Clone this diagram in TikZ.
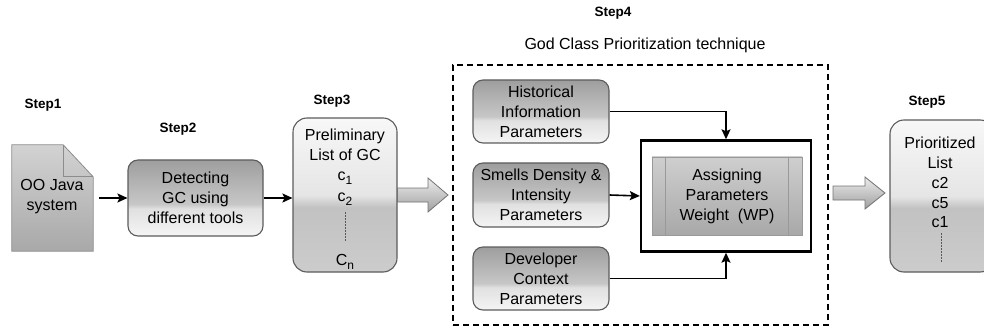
\documentclass[tikz,border=0pt]{standalone}
\usepackage{fontspec}
\setmainfont{Liberation Sans}
\usetikzlibrary{arrows.meta,calc}
\definecolor{gA}{gray}{0.96}
\definecolor{gB}{gray}{0.88}
\definecolor{gC}{gray}{0.78}
\definecolor{gD}{gray}{0.62}
\definecolor{hA}{gray}{0.97}
\definecolor{hB}{gray}{0.90}
\definecolor{hC}{gray}{0.76}
\definecolor{hD}{gray}{0.80}
\definecolor{edge}{gray}{0.36}
\pgfdeclareverticalshading{glossbox}{100bp}{color(0bp)=(gA); color(25bp)=(gA); color(43bp)=(gB); color(46bp)=(gC); color(75bp)=(gD); color(100bp)=(gD)}
\pgfdeclareverticalshading{glosslist}{100bp}{color(0bp)=(hD); color(25bp)=(hD); color(46bp)=(hC); color(50bp)=(hB); color(75bp)=(hA); color(100bp)=(hA)}
\begin{document}
\begin{tikzpicture}[x=1pt,y=-1pt,
  font=\fontsize{16}{20}\selectfont,
  steplbl/.style={font=\bfseries\fontsize{13.5}{16}\selectfont, inner sep=0pt},
  txt/.style={inner sep=0pt, align=center},
  gbox/.style={draw=edge, line width=1.1pt, rounded corners=10pt, shading=glossbox, align=center, inner sep=0pt},
  lbox/.style={draw=edge, line width=1.1pt, rounded corners=14pt, shading=glosslist, inner sep=0pt},
  conn/.style={line width=1.6pt, -{Stealth[length=10pt,width=9pt,inset=2pt]}},
  hollow/.style={draw=gray!110, line width=0.8pt, top color=gray!15, bottom color=gray!75},
  dots/.style={gray!70!black, line width=1pt, dash pattern=on 1.5pt off 1.5pt}
]
\useasboundingbox (0,0) rectangle (984,331);
\clip (0,0) rectangle (984,331);

% step labels
\node[steplbl] (s1) at (43,105) {Step1};
\node[steplbl] (s2) at (178,129) {Step2};
\node[steplbl] (s3) at (332,101) {Step3};
\node[steplbl] (s4) at (613,13) {Step4};
\node[steplbl] (s5) at (927,102) {Step5};
\node[txt] (title) at (645,45) {God Class Prioritization technique};

% Step 1 document
\path node[minimum width=81pt, minimum height=106pt, inner sep=0pt] (doc) at (52.5,198) {};
\draw[draw=gray!90, line width=0.8pt, top color=gray!35, bottom color=gray!68]
  (doc.north west) -- ([xshift=-30pt]doc.north east) -- ([yshift=-32pt]doc.north east)
  -- (doc.south east) -- (doc.south west) -- cycle;
\draw[gray!90, line width=0.8pt] ([xshift=-30pt]doc.north east) |- ([yshift=-32pt]doc.north east);
\node[txt] (doct) at (52,197) {OO Java\\system};

% Step 2
\node[gbox, minimum width=135pt, minimum height=76pt] (b2) at (195.5,198) {Detecting\\GC using\\different tools};

% Step 3
\node[lbox, minimum width=104pt, minimum height=154pt] (b3) at (345,195) {};
\node[txt] (b3t) at (345,145) {Preliminary\\List of GC};
\node[txt] (b3c1) at (345,178) {c\raisebox{-4pt}{\fontsize{12}{12}\selectfont 1}};
\node[txt] (b3c2) at (345,199) {c\raisebox{-4pt}{\fontsize{12}{12}\selectfont 2}};
\coordinate (b3d1) at (345,212);
\coordinate (b3d2) at (345,241);
\draw[dots] (b3d1) -- (b3d2);
\node[txt] (b3cn) at (345,262) {C\raisebox{-4pt}{\fontsize{12}{12}\selectfont n}};

% dashed frame
\node[draw, line width=1.7pt, dash pattern=on 6pt off 4pt, minimum width=375pt, minimum height=260pt, inner sep=0pt] (frame) at (640.5,195) {};

% Step 4 boxes
\node[gbox, minimum width=136pt, minimum height=63pt] (hist) at (541,111.5) {Historical\\Information\\Parameters};
\node[gbox, minimum width=136pt, minimum height=64pt] (smell) at (541,195) {Smells Density \&\\Intensity\\Parameters};
\node[gbox, minimum width=136pt, minimum height=63pt] (dev) at (541,278.5) {Developer\\Context\\Parameters};

\node[draw, fill=white, line width=2.4pt, minimum width=170pt, minimum height=111pt, inner sep=0pt] (wp) at (726,196) {};
\node[draw=gray!80, line width=0.8pt, top color=gray!38, bottom color=gray!68, minimum width=150pt, minimum height=78pt, inner sep=0pt, align=center] (wpin) at (727,196) {Assigning\\Parameters\\Weight\ \ (WP)};
\draw[gray!80, line width=0.8pt] ([xshift=14pt]wpin.north west) -- ([xshift=14pt]wpin.south west);
\draw[gray!80, line width=0.8pt] ([xshift=-14pt]wpin.north east) -- ([xshift=-14pt]wpin.south east);

\draw[conn] (hist.east) -| (wp.north);
\draw[conn] (smell.east) -- (wp.west);
\draw[conn] (dev.east) -| (wp.south);

% Step 5
\node[lbox, minimum width=104pt, minimum height=152pt] (b5) at (942,196) {};
\node[txt] (b5t) at (940,153) {Prioritized\\List};
\node[txt] (b5c2) at (940,183) {c2};
\node[txt] (b5c5) at (940,203) {c5};
\node[txt] (b5c1) at (940,222) {c1};
\coordinate (b5d1) at (941,233);
\coordinate (b5d2) at (941,262);
\draw[dots] (b5d1) -- (b5d2);

% connectors
\draw[conn, shorten <=6pt] (doc.east) -- (b2.west);
\draw[conn] (b2.east) -- (b3.west |- b2.east);

% hollow arrows
\coordinate (ha0) at (b3.east |- 0,195);
\coordinate (ha1) at (448,195);
\draw[hollow] ($(ha0)+(0,-7)$) -- ($(ha1)+(-20,-7)$) -- ($(ha1)+(-20,-17)$) -- (ha1)
  -- ($(ha1)+(-20,17)$) -- ($(ha1)+(-20,7)$) -- ($(ha0)+(0,7)$) -- cycle;
\coordinate (hb0) at (833,193);
\coordinate (hb1) at (885,193);
\draw[hollow] ($(hb0)+(0,-7)$) -- ($(hb1)+(-20,-7)$) -- ($(hb1)+(-20,-16)$) -- (hb1)
  -- ($(hb1)+(-20,16)$) -- ($(hb1)+(-20,7)$) -- ($(hb0)+(0,7)$) -- cycle;
\end{tikzpicture}
\end{document}
